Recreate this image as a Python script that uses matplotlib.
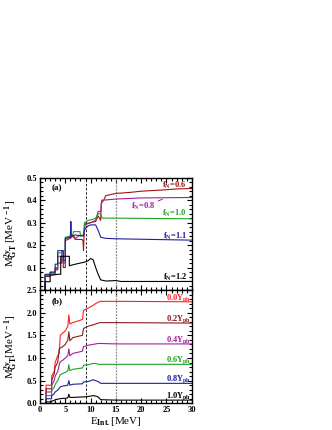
import matplotlib
matplotlib.use("Agg")
import matplotlib.pyplot as plt
from matplotlib.ticker import MultipleLocator

plt.rcParams["font.family"] = "Liberation Serif"
plt.rcParams["font.weight"] = "bold"
plt.rcParams["mathtext.fontset"] = "custom"
plt.rcParams["mathtext.rm"] = "Liberation Serif:bold"
plt.rcParams["mathtext.it"] = "Liberation Serif:bold"
plt.rcParams["mathtext.bf"] = "Liberation Serif:bold"
plt.rcParams["mathtext.default"] = "rm"

# ---- panel (a): quenching factor f_N ----
E_06 = [1.0, 1.0, 2.0, 2.0, 3.0, 3.0, 3.5, 3.5, 4.3, 4.3, 4.6, 4.6, 5.0, 5.0, 6.0, 6.5, 7.0, 8.3,
        8.5, 8.6, 8.8, 9.0, 10.0, 11.0, 11.5, 12.0, 12.1, 12.6, 13.0, 15.0, 18.0, 20.0, 24.0, 27.0, 30.0]
M_06 = [0.0, 0.060, 0.060, 0.070, 0.070, 0.090, 0.090, 0.120, 0.120, 0.150, 0.150, 0.100, 0.100, 0.220,
        0.230, 0.240, 0.225, 0.225, 0.220, 0.175, 0.290, 0.295, 0.300, 0.305, 0.330, 0.310, 0.385, 0.400,
        0.420, 0.430, 0.435, 0.440, 0.445, 0.450, 0.452]

E_08 = [1.0, 1.0, 2.0, 2.0, 3.0, 3.0, 3.5, 3.5, 4.3, 4.3, 4.6, 4.6, 5.0, 5.0, 6.0, 6.5, 7.0, 8.0,
        8.7, 8.9, 10.0, 11.0, 11.5, 12.0, 12.2, 12.5, 15.0, 20.0, 30.0]
M_08 = [0.0, 0.065, 0.065, 0.075, 0.075, 0.095, 0.095, 0.150, 0.150, 0.170, 0.170, 0.120, 0.120, 0.230,
        0.235, 0.245, 0.230, 0.245, 0.240, 0.290, 0.300, 0.310, 0.350, 0.350, 0.400, 0.400, 0.405,
        0.410, 0.412]

E_10 = [1.0, 1.0, 2.0, 2.0, 3.0, 3.0, 3.5, 3.5, 4.3, 4.3, 5.0, 5.0, 6.0, 6.5, 6.6, 7.9, 8.0, 8.6,
        8.8, 9.5, 10.5, 11.0, 11.5, 12.0, 12.3, 15.0, 30.0]
M_10 = [0.0, 0.068, 0.068, 0.078, 0.078, 0.100, 0.100, 0.165, 0.165, 0.175, 0.175, 0.235, 0.240,
        0.245, 0.260, 0.260, 0.240, 0.245, 0.300, 0.310, 0.315, 0.320, 0.340, 0.340, 0.320, 0.320, 0.317]

E_11 = [1.0, 1.0, 2.0, 2.0, 3.0, 3.0, 3.5, 3.5, 4.3, 4.3, 4.6, 4.6, 5.0, 5.0, 6.0, 6.1, 6.2, 7.0,
        8.5, 8.8, 9.0, 9.5, 10.0, 11.0, 11.6, 12.0, 13.0, 15.0, 30.0]
M_11 = [0.0, 0.070, 0.070, 0.080, 0.080, 0.115, 0.115, 0.175, 0.175, 0.175, 0.175, 0.130, 0.130,
        0.230, 0.235, 0.305, 0.240, 0.245, 0.240, 0.265, 0.275, 0.285, 0.290, 0.290, 0.260, 0.235,
        0.230, 0.228, 0.222]

E_12 = [1.0, 1.0, 2.0, 2.0, 3.0, 3.5, 4.1, 4.1, 5.0, 5.8, 5.8, 7.0, 9.0, 9.5, 10.0, 10.5, 11.0,
        11.5, 12.0, 13.0, 15.0, 16.0, 30.0]
M_12 = [0.0, 0.037, 0.037, 0.065, 0.068, 0.070, 0.070, 0.150, 0.150, 0.150, 0.108, 0.115, 0.125,
        0.130, 0.140, 0.135, 0.100, 0.070, 0.045, 0.040, 0.042, 0.038, 0.038]

top_series = [
    (E_06, M_06, "#a01515", "f$_{\\rm N}$=0.6", 0.465),
    (E_08, M_08, "#a020a0", None, None),
    (E_10, M_10, "#20a020", "f$_{\\rm N}$=1.0", 0.340),
    (E_11, M_11, "#2020a0", "f$_{\\rm N}$=1.1", 0.238),
    (E_12, M_12, "black", "f$_{\\rm N}$=1.2", 0.058),
]

# ---- panel (b): particle-hole strength Y_ph ----
E_b = [1.2, 1.2, 2.3, 2.3, 2.8, 3.0, 3.5, 3.8, 4.0, 4.5, 5.0, 5.5, 5.7, 5.9, 6.5, 8.4, 8.6,
       9.5, 10.5, 11.0, 11.5, 12.0, 15.0, 30.0]
M_b00 = [0.0, 0.40, 0.40, 0.60, 0.70, 0.90, 1.05, 1.10, 1.50, 1.55, 1.60, 1.70, 1.95, 1.75, 1.78,
         1.85, 2.05, 2.10, 2.16, 2.20, 2.23, 2.25, 2.25, 2.24]
M_b02 = [0.0, 0.32, 0.32, 0.50, 0.65, 0.80, 0.90, 1.20, 1.22, 1.25, 1.30, 1.40, 1.58, 1.38, 1.45,
         1.50, 1.65, 1.70, 1.73, 1.75, 1.77, 1.78, 1.78, 1.77]
M_b04 = [0.0, 0.25, 0.25, 0.40, 0.50, 0.60, 0.70, 0.85, 0.92, 0.95, 1.00, 1.05, 1.20, 1.05, 1.10,
         1.15, 1.25, 1.28, 1.30, 1.31, 1.32, 1.32, 1.31, 1.31]
M_b06 = [0.0, 0.17, 0.17, 0.28, 0.35, 0.42, 0.50, 0.58, 0.63, 0.66, 0.68, 0.72, 0.85, 0.72, 0.75,
         0.78, 0.84, 0.85, 0.88, 0.88, 0.86, 0.86, 0.86, 0.86]
M_b08 = [0.0, 0.10, 0.10, 0.17, 0.21, 0.25, 0.29, 0.33, 0.36, 0.38, 0.39, 0.40, 0.50, 0.40, 0.42,
         0.43, 0.47, 0.48, 0.52, 0.50, 0.48, 0.44, 0.44, 0.44]
M_b10 = [0.0, 0.03, 0.03, 0.05, 0.06, 0.08, 0.09, 0.10, 0.10, 0.11, 0.11, 0.12, 0.20, 0.13, 0.13,
         0.14, 0.14, 0.15, 0.17, 0.16, 0.14, 0.08, 0.07, 0.07]

bottom_series = [
    (M_b00, "#ff2020", "0.0Y$_{\\rm ph}$", 2.33),
    (M_b02, "#8b1a1a", "0.2Y$_{\\rm ph}$", 1.86),
    (M_b04, "#a020a0", "0.4Y$_{\\rm ph}$", 1.40),
    (M_b06, "#20a020", "0.6Y$_{\\rm ph}$", 0.96),
    (M_b08, "#2020a0", "0.8Y$_{\\rm ph}$", 0.53),
    (M_b10, "black", "1.0Y$_{\\rm ph}$", 0.16),
]


def style_axis(ax, ymax, ymaj, ymin):
    ax.set_xlim(0, 30)
    ax.set_ylim(0, ymax)
    ax.xaxis.set_major_locator(MultipleLocator(5))
    ax.xaxis.set_minor_locator(MultipleLocator(1))
    ax.yaxis.set_major_locator(MultipleLocator(ymaj))
    ax.yaxis.set_minor_locator(MultipleLocator(ymin))
    ax.tick_params(which="both", direction="in", top=True, right=True, labelsize=6, width=0.8, pad=2)
    ax.tick_params(which="major", length=3.5)
    ax.tick_params(which="minor", length=2)
    for sp in ax.spines.values():
        sp.set_linewidth(1.0)
    ax.axvline(9, color="black", lw=0.6, ls=(0, (3, 2)))
    ax.axvline(15, color="0.55", lw=0.9, ls=(0, (1.5, 1)))


fig = plt.figure(figsize=(3.32, 4.30), dpi=100)
ax1 = fig.add_axes([0.1205, 0.3256, 0.457, 0.2611])
ax2 = fig.add_axes([0.1205, 0.0621, 0.457, 0.2635])

style_axis(ax1, 0.5, 0.1, 0.02)
for E, M, c, lab, ly in top_series:
    ax1.plot(E, M, color=c, lw=0.8)
    if lab:
        ax1.text(29.0, ly, lab, color=c, fontsize=6, ha="right", va="center")
ax1.annotate("f$_{\\rm N}$=0.8", xy=(24.2, 0.404), xytext=(18.0, 0.372), color="#a020a0",
             fontsize=6, ha="left", va="center",
             arrowprops=dict(arrowstyle="-", color="#a020a0", lw=0.7, shrinkA=0, shrinkB=0))
ax1.text(2.2, 0.455, "(a)", fontsize=6.5, ha="left", va="center")
ax1.set_yticks([0.1, 0.2, 0.3, 0.4, 0.5])
ax1.tick_params(labelbottom=False)
ax1.set_ylabel("M$^{\\rm 2\\nu}_{\\rm GT}$ [MeV$^{\\rm -1}$]", fontsize=8)
ax1.yaxis.set_label_coords(-0.13, 0.5)

style_axis(ax2, 2.5, 0.5, 0.1)
for M, c, lab, ly in bottom_series:
    ax2.plot(E_b, M, color=c, lw=0.8)
    ax2.text(29.8, ly, lab, color=c, fontsize=6, ha="right", va="center")
ax2.text(2.2, 2.25, "(b)", fontsize=6.5, ha="left", va="center")
ax2.set_ylabel("M$^{\\rm 2\\nu}_{\\rm GT}$[MeV$^{\\rm -1}$]", fontsize=8)
ax2.yaxis.set_label_coords(-0.13, 0.5)
ax2.set_xlabel("E$_{\\rm Int.}$[MeV]", fontsize=8, labelpad=1)

fig.savefig("out.png", dpi=100)
